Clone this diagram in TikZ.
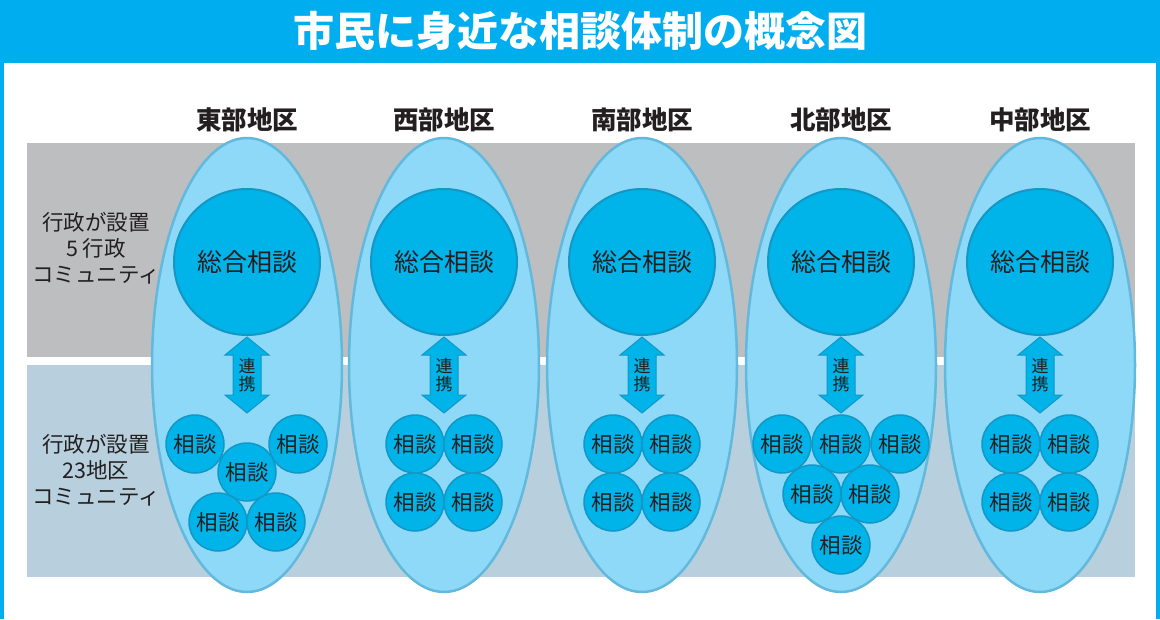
\documentclass[tikz,border=0pt]{standalone}
\usepackage{fontspec}
\usetikzlibrary{shapes.geometric}
\setmainfont{Noto Sans CJK JP}
\definecolor{cyanbar}{HTML}{00AEEF}
\definecolor{bandgray}{HTML}{BDBEC0}
\definecolor{bandblue}{HTML}{B8CFDD}
\definecolor{ellfill}{HTML}{8ED8F8}
\definecolor{ellrim}{HTML}{62B9DC}
\definecolor{circfill}{HTML}{00B3E8}
\definecolor{circrim}{HTML}{1397C4}
\definecolor{ink}{HTML}{231F20}
\begin{document}
\begin{tikzpicture}[x=1pt,y=-1pt,
  ell/.style={ellipse,draw=ellrim,fill=ellfill,line width=2.5pt,minimum width=190pt,minimum height=454pt,inner sep=0pt},
  bigc/.style={circle,draw=circrim,fill=circfill,line width=2pt,minimum size=146pt,inner sep=0pt,text=ink,font=\fontsize{25}{25}\selectfont},
  smc/.style={circle,draw=circrim,fill=circfill,line width=1.5pt,minimum size=58pt,inner sep=0pt,text=ink,font=\fontsize{21.5}{21.5}\selectfont},
  region/.style={text=ink,font=\bfseries\fontsize{25.5}{25.5}\selectfont},
  side/.style={text=ink,align=center,font=\fontsize{21.5}{26}\selectfont},
  arr/.style={fill=circfill,draw=circrim,line width=1pt}
]
\useasboundingbox (0,0) rectangle (1160,619);
% frame
\fill[cyanbar] (0,0) rectangle (1160,619);
\fill[white] (4,63) rectangle (1156,619);
\node[text=white,font=\bfseries\fontsize{41}{41}\selectfont] (title) at (580,31) {市民に身近な相談体制の概念図};
% bands
\fill[bandgray] (27,143) rectangle (1135,357);
\fill[bandblue] (27,365) rectangle (1135,577);
\node[side] (s1) at (96,248) {行政が設置\\5 行政\\コミュニティ};
\node[side] (s2) at (96,470) {行政が設置\\23地区\\コミュニティ};
% districts
\foreach \n/\x/\name in {e/247/東部地区,w/444/西部地区,s/642/南部地区,n/841/北部地区,m/1040/中部地区}{
  \node[region] (r\n) at (\x,120) {\name};
  \node[ell] (E\n) at (\x,365) {};
  \node[bigc] (B\n) at (\x,262) {総合相談};
  \draw[arr] (\x,337) -- (\x+22,355) -- (\x+14,355) -- (\x+14,395) -- (\x+22,395) -- (\x,413)
     -- (\x-22,395) -- (\x-14,395) -- (\x-14,355) -- (\x-22,355) -- cycle;
  \node[text=ink,align=center,font=\fontsize{17}{18}\selectfont] (L\n) at (\x,375) {連\\携};
}
% east small
\node[smc] (e1) at (195,444) {相談};
\node[smc] (e2) at (298,444) {相談};
\node[smc] (e3) at (247,472) {相談};
\node[smc] (e4) at (218,522) {相談};
\node[smc] (e5) at (276,522) {相談};
% west, south, middle
\foreach \n/\x in {w/444,s/642,m/1040}{
  \node[smc] (\n1) at (\x-29,444) {相談};
  \node[smc] (\n2) at (\x+29,444) {相談};
  \node[smc] (\n3) at (\x-29,502) {相談};
  \node[smc] (\n4) at (\x+29,502) {相談};
}
% north
\node[smc] (n1) at (782,444) {相談};
\node[smc] (n2) at (841,444) {相談};
\node[smc] (n3) at (900,444) {相談};
\node[smc] (n4) at (812,494) {相談};
\node[smc] (n5) at (870,494) {相談};
\node[smc] (n6) at (841,545) {相談};
\end{tikzpicture}
\end{document}
